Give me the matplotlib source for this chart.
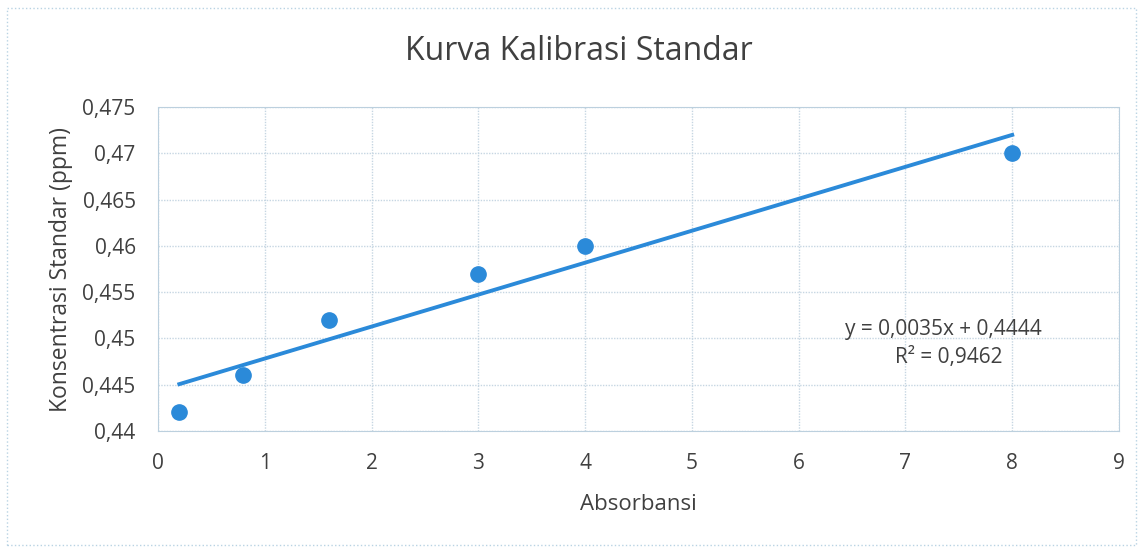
import numpy as np
import matplotlib
matplotlib.use('Agg')
from matplotlib import pyplot as plt
from matplotlib.patches import Rectangle
from matplotlib.ticker import FuncFormatter

absorbansi = [0.2, 0.8, 1.6, 3, 4, 8]
konsentrasi = [0.442, 0.446, 0.452, 0.457, 0.460, 0.470]
x_ticks = [0, 1, 2, 3, 4, 5, 6, 7, 8, 9]
y_ticks = [0.44, 0.445, 0.45, 0.455, 0.46, 0.465, 0.47, 0.475]

# regresi linier dari data
slope, intercept = np.polyfit(absorbansi, konsentrasi, 1)

plt.rcParams['font.family'] = ['Open Sans', 'DejaVu Sans']
warna = '#2b8ad9'
teks = '#404040'

fig = plt.figure(figsize=(11.43, 5.48), dpi=100)
fig.patches.append(Rectangle((0.006, 0.005), 0.988, 0.98, transform=fig.transFigure,
                             fill=False, edgecolor='#b9d3e3', lw=1, ls=':'))
ax = fig.add_axes([0.1382, 0.2135, 0.8408, 0.5912])

ax.plot(absorbansi, konsentrasi, 'o', color=warna, ms=11, zorder=3)
xs = np.array([absorbansi[0], absorbansi[-1]])
ax.plot(xs, slope * xs + intercept, color=warna, lw=2.8, zorder=2)

ax.set_xlim(0, 9)
ax.set_ylim(0.44, 0.475)
ax.set_xticks(x_ticks)
ax.set_yticks(y_ticks)
ax.yaxis.set_major_formatter(FuncFormatter(lambda v, p: ('%g' % round(v, 3)).replace('.', ',')))
ax.xaxis.set_major_formatter(FuncFormatter(lambda v, p: '%g' % v))
ax.grid(True, color='#c6d6e2', lw=1, ls=(0, (1, 1)))
ax.set_axisbelow(True)
for s in ax.spines.values():
    s.set_color('#bcd0de')
    s.set_linestyle((0, (1, 1)))
ax.tick_params(length=0, labelsize=15, colors=teks, pad=16)

fig.text(579 / 1143, 1 - 51 / 548, 'Kurva Kalibrasi Standar', ha='center', va='center',
         fontsize=23, color=teks)
ax.set_xlabel('Absorbansi', fontsize=16, color=teks, labelpad=14)
ax.set_ylabel('Konsentrasi Standar (ppm)', fontsize=16.5, color=teks, labelpad=7)

ax.text(943 / 1143, 1 - 330 / 548, 'y = 0,0035x + 0,4444', transform=fig.transFigure,
        ha='center', va='center', fontsize=15, color=teks)
ax.text(949 / 1143, 1 - 357 / 548, 'R² = 0,9462', transform=fig.transFigure,
        ha='center', va='center', fontsize=15, color=teks)

fig.savefig('out.png', dpi=100)
